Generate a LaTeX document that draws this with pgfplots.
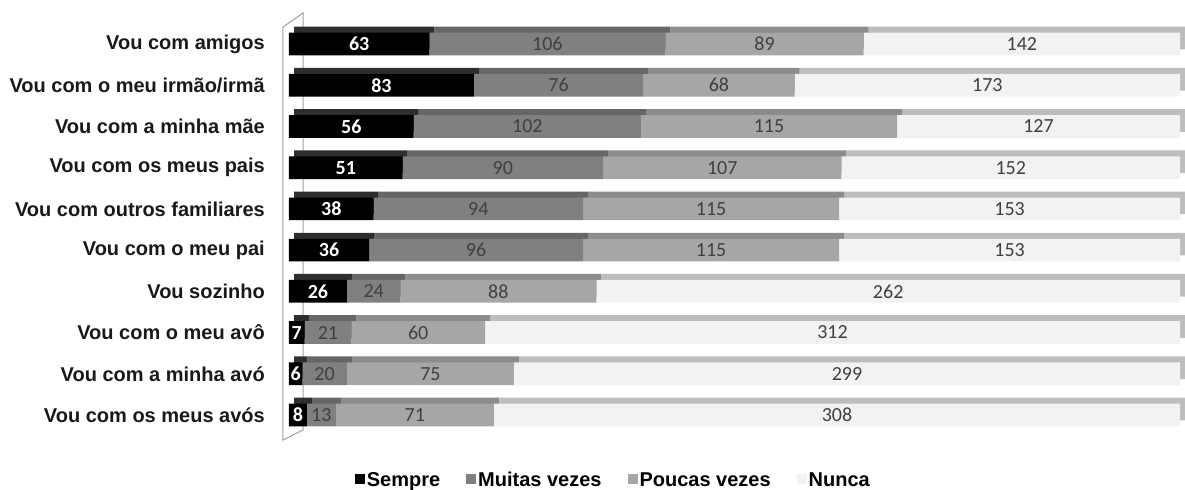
\documentclass[border=0pt]{standalone}
\usepackage{pgfplots}
\usepackage{pgfplotstable}
\pgfplotsset{compat=1.18}
\usepackage{fontspec}
\setmainfont{Liberation Sans}
\newfontfamily\carlito{Carlito}
\definecolor{cS}{HTML}{000000}
\definecolor{cM}{HTML}{808080}
\definecolor{cP}{HTML}{A6A6A6}
\definecolor{cN}{HTML}{F2F2F2}
\definecolor{tS}{HTML}{2E2E2E}
\definecolor{tM}{HTML}{666666}
\definecolor{tP}{HTML}{8C8C8C}
\definecolor{tN}{HTML}{BDBDBD}
\definecolor{wall}{HTML}{A0A0A0}
\pgfplotstableread{
y s m p n
0 63 106 89 142
1 83 76 68 173
2 56 102 115 127
3 51 90 107 152
4 38 94 115 153
5 36 96 115 153
6 26 24 88 262
7 7 21 60 312
8 6 20 75 299
9 8 13 71 308
}\data
\pgfplotsset{
  base/.style={
    scale only axis, width=891bp, height=412.2bp,
    xmin=0, xmax=400, ymin=-0.5, ymax=9.5, y dir=reverse,
    xbar stacked, bar width=0.55,
    clip=false,
  },
}
\begin{document}
\begin{tikzpicture}
\useasboundingbox (-289bp,-54.4bp) rectangle (896bp,435.6bp);
% 3D wall
\draw[wall, line width=1bp] (-6bp,408.6bp) -- (-6bp,-4.4bp) -- (14bp,5.6bp) -- (14bp,422.6bp) -- cycle;
% back layer (top and side faces)
\begin{axis}[base, at={(5bp,6bp)}, anchor=south west, axis lines=none]
\addplot[fill=tS, draw=none] table[x=s, y=y] {\data};
\addplot[fill=tM, draw=none] table[x=m, y=y] {\data};
\addplot[fill=tP, draw=none] table[x=p, y=y] {\data};
\addplot[fill=tN, draw=none] table[x=n, y=y] {\data};
\end{axis}
% front layer
\begin{axis}[base, at={(0bp,0bp)}, anchor=south west,
  axis line style={draw=none},
  major tick length=0pt,
  xtick=\empty,
  ytick={0,...,9},
  yticklabels={Vou com amigos, Vou com o meu irmão/irmã, Vou com a minha mãe, Vou com os meus pais, Vou com outros familiares, Vou com o meu pai, Vou sozinho, Vou com o meu avô, Vou com a minha avó, Vou com os meus avós},
  yticklabel style={font=\bfseries\fontsize{20bp}{20bp}\selectfont, inner sep=0pt, xshift=-24bp, text=black!90},
  /pgf/number format/assume math mode=true,
  point meta=explicit,
  nodes near coords,
  every node near coord/.append style={anchor=center, font=\carlito\fontsize{20bp}{20bp}\selectfont, text=black!75},
  legend columns=4,
  legend style={at={(0.364,-0.108)}, anchor=center, draw=none, fill=none,
    font=\bfseries\fontsize{20bp}{20bp}\selectfont,
    /tikz/every even column/.append style={column sep=24bp}},
  legend image code/.code={\fill[#1] (0bp,-4bp) rectangle (10bp,6bp);},
]
\addplot[fill=cS, draw=none, nodes near coords style={text=white, font=\carlito\bfseries\fontsize{20bp}{20bp}\selectfont}] table[x=s, y=y, meta=s] {\data};
\addplot[fill=cM, draw=none] table[x=m, y=y, meta=m] {\data};
\addplot[fill=cP, draw=none] table[x=p, y=y, meta=p] {\data};
\addplot[fill=cN, draw=none] table[x=n, y=y, meta=n] {\data};
\legend{Sempre, Muitas vezes, Poucas vezes, Nunca}
\end{axis}
\end{tikzpicture}
\end{document}
